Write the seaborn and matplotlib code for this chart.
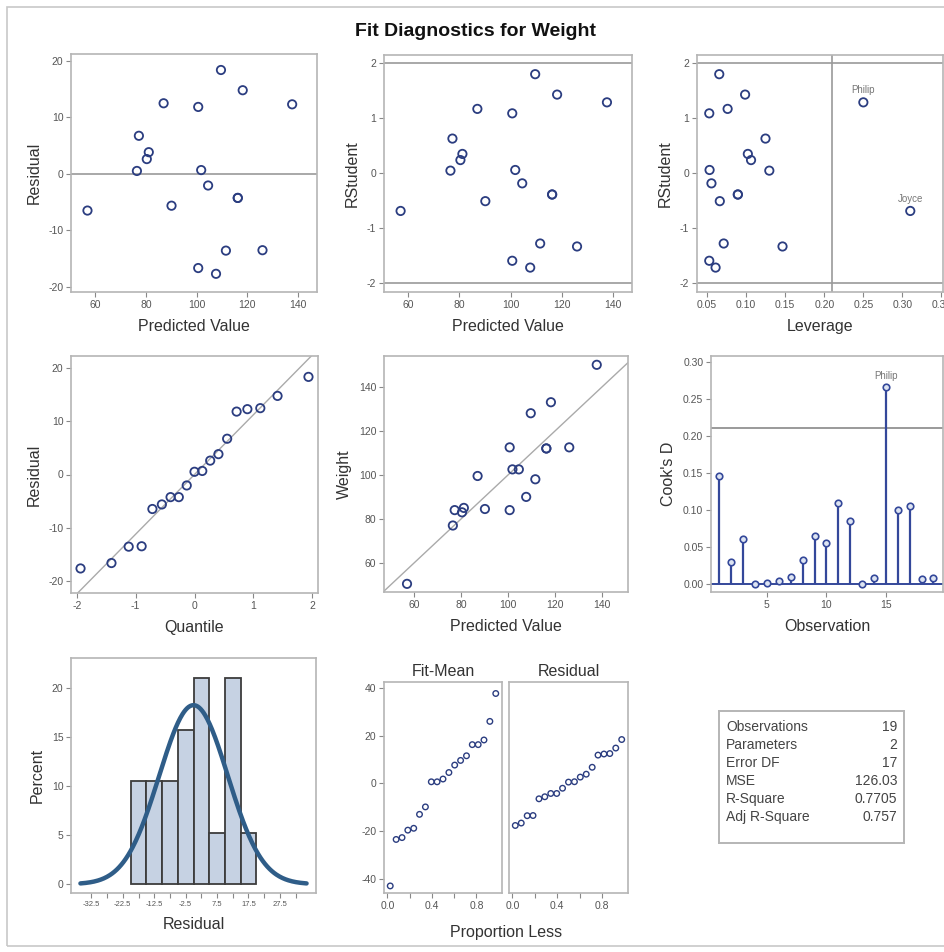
import numpy as np
import pandas as pd
import seaborn as sns
import matplotlib
matplotlib.use('Agg')
import matplotlib.pyplot as plt
from matplotlib.patches import Rectangle

# data (19 observations)
names = ['Alfred', 'Alice', 'Barbara', 'Carol', 'Henry', 'James', 'Jane', 'Janet', 'Jeffrey', 'John',
         'Joyce', 'Judy', 'Louise', 'Mary', 'Philip', 'Robert', 'Ronald', 'Thomas', 'William']
weight = [112.5, 84.0, 98.0, 102.5, 102.5, 83.0, 84.5, 112.5, 84.0, 99.5,
          50.5, 90.0, 77.0, 112.0, 150.0, 128.0, 133.0, 85.0, 112.0]
predicted = [126.006, 77.268, 111.580, 101.832, 104.561, 80.387, 90.135, 100.662, 100.662, 87.016,
             56.993, 107.681, 76.488, 116.258, 137.703, 109.630, 118.208, 81.167, 116.258]
residual = [-13.506, 6.732, -13.580, 0.668, -2.061, 2.613, -5.635, 11.838, -16.662, 12.484,
            -6.493, -17.681, 0.512, -4.258, 12.297, 18.370, 14.792, 3.833, -4.258]
rstudent = [-1.332, 0.630, -1.278, 0.059, -0.184, 0.239, -0.508, 1.089, -1.592, 1.170,
            -0.686, -1.716, 0.047, -0.387, 1.289, 1.801, 1.430, 0.351, -0.387]
leverage = [0.1465, 0.1247, 0.0712, 0.0531, 0.0555, 0.1062, 0.0662, 0.0527, 0.0527, 0.0762,
            0.3101, 0.0608, 0.1296, 0.0893, 0.2500, 0.0655, 0.0986, 0.1021, 0.0893]
cooksd = [0.1456, 0.0293, 0.0604, 0.0001, 0.0011, 0.0036, 0.0096, 0.0327, 0.0647, 0.0552,
          0.1090, 0.0855, 0.0002, 0.0078, 0.2667, 0.1004, 0.1054, 0.0074, 0.0078]
normal_quantile = [-1.938, -1.412, -1.119, -0.899, -0.716, -0.555, -0.407, -0.267, -0.132, 0.0,
                   0.132, 0.267, 0.407, 0.555, 0.716, 0.899, 1.119, 1.412, 1.938]
proportion_less = [0.026, 0.079, 0.132, 0.184, 0.237, 0.289, 0.342, 0.395, 0.447, 0.500,
                   0.553, 0.605, 0.658, 0.711, 0.763, 0.816, 0.868, 0.921, 0.974]

rmse = 11.226
resid_sd = 10.91
cook_cut = 0.2105
lev_cut = 0.2105

stat_labels = ['Observations', 'Parameters', 'Error DF', 'MSE', 'R-Square', 'Adj R-Square']
stat_values = ['19', '2', '17', '126.03', '0.7705', '0.757']

df = pd.DataFrame({'name': names, 'weight': weight, 'pred': predicted, 'resid': residual,
                   'rstudent': rstudent, 'lev': leverage, 'cooksd': cooksd,
                   'obs': np.arange(1, len(names) + 1)})
qq = pd.DataFrame({'q': normal_quantile, 'r': np.sort(df['resid'].values)})
spread = pd.DataFrame({'p': proportion_less,
                       'fit': np.sort(df['pred'].values - df['weight'].mean()),
                       'res': np.sort(df['resid'].values)})

sns.set_theme(style='white')
plt.rcParams['font.family'] = ['Liberation Sans', 'DejaVu Sans']
plt.rcParams['axes.unicode_minus'] = False

W, H = 944, 952
fig = plt.figure(figsize=(W / 100, H / 100), dpi=100)
fig.patch.set_facecolor('white')

MARK = '#2b3d80'
REF = '#9a9a9a'
FRAME = '#b5b5b5'
LBL = '#333333'
TCK = '#555555'


def box(l, r, t, b):
    return [l / W, 1 - b / H, (r - l) / W, (b - t) / H]


def style(ax, xlabel=None, ylabel=None):
    for s in ax.spines.values():
        s.set_color(FRAME)
        s.set_linewidth(1.2)
    ax.tick_params(axis='both', which='both', direction='out', length=3.5, width=0.8,
                   color='#888888', labelsize=7.5, labelcolor=TCK, pad=2,
                   bottom=True, left=True)
    ax.set_xlabel(xlabel if xlabel else '', fontsize=11.5, color=LBL, labelpad=7)
    ax.set_ylabel(ylabel if ylabel else '', fontsize=11.5, color=LBL, labelpad=5)
    ax.grid(False)


def circles(ax, x, y, data, size=36, lw=1.3):
    sns.scatterplot(data=data, x=x, y=y, ax=ax, marker='o', s=size, facecolor='none',
                    edgecolor=MARK, linewidth=lw, legend=False, zorder=3)


# title and outer frame
fig.text(475 / W, 1 - 32 / H, 'Fit Diagnostics for Weight', ha='center', va='center',
         fontsize=14, fontweight='bold', color='#111111')
fig.patches.append(Rectangle((7 / W, 1 - 946 / H), 1.2, 939 / H, transform=fig.transFigure,
                             fill=False, edgecolor='#c8c8c8', linewidth=1.2))

# residual vs predicted
ax = fig.add_axes(box(71, 317, 54, 292))
ax.axhline(0, color=REF, lw=1.2, zorder=1)
circles(ax, 'pred', 'resid', df)
ax.set_xlim(50.5, 147.5)
ax.set_ylim(-20.9, 21.2)
ax.set_xticks([60, 80, 100, 120, 140])
ax.set_yticks([-20, -10, 0, 10, 20])
style(ax, 'Predicted Value', 'Residual')

# rstudent vs predicted
ax = fig.add_axes(box(384, 632, 55, 292))
for v in (-2, 2):
    ax.axhline(v, color=REF, lw=1.2, zorder=1)
circles(ax, 'pred', 'rstudent', df)
ax.set_xlim(50.5, 147.5)
ax.set_ylim(-2.16, 2.15)
ax.set_xticks([60, 80, 100, 120, 140])
ax.set_yticks([-2, -1, 0, 1, 2])
style(ax, 'Predicted Value', 'RStudent')

# rstudent vs leverage
ax = fig.add_axes(box(697, 943, 55, 292))
for v in (-2, 2):
    ax.axhline(v, color=REF, lw=1.2, zorder=1)
ax.axvline(lev_cut, color=REF, lw=1.2, zorder=1)
circles(ax, 'lev', 'rstudent', df)
for nm in ('Philip', 'Joyce'):
    row = df[df['name'] == nm].iloc[0]
    ax.text(row['lev'], row['rstudent'] + 0.13, nm, ha='center', va='bottom',
            fontsize=7, color='#777777')
ax.set_xlim(0.037, 0.352)
ax.set_ylim(-2.16, 2.15)
ax.set_xticks([0.05, 0.10, 0.15, 0.20, 0.25, 0.30, 0.35])
ax.set_xticklabels(['0.05', '0.10', '0.15', '0.20', '0.25', '0.30', '0.35'])
ax.set_yticks([-2, -1, 0, 1, 2])
style(ax, 'Leverage', 'RStudent')
ax.xaxis.get_majorticklabels()[-1].set_clip_on(False)

# normal quantile plot
ax = fig.add_axes(box(71, 318, 356, 593))
ax.axline((0, 0), slope=rmse, color='#aaaaaa', lw=1.0, zorder=1)
circles(ax, 'q', 'r', qq)
ax.set_xlim(-2.1, 2.1)
ax.set_ylim(-22.3, 22.3)
ax.set_xticks([-2, -1, 0, 1, 2])
ax.set_yticks([-20, -10, 0, 10, 20])
style(ax, 'Quantile', 'Residual')

# observed vs predicted
ax = fig.add_axes(box(384, 628, 356, 592))
ax.axline((0, 0), slope=1, color='#aaaaaa', lw=1.0, zorder=1)
circles(ax, 'pred', 'weight', df)
ax.set_xlim(47.2, 151)
ax.set_ylim(46.8, 154)
ax.set_xticks([60, 80, 100, 120, 140])
ax.set_yticks([60, 80, 100, 120, 140])
style(ax, 'Predicted Value', 'Weight')

# cook's d
ax = fig.add_axes(box(711, 943, 356, 592))
ax.axhline(cook_cut, color=REF, lw=1.4, zorder=1)
ax.axhline(0, color='#34489a', lw=1.4, zorder=2)
ax.vlines(df['obs'], 0, df['cooksd'], color='#34489a', lw=1.6, zorder=2)
sns.scatterplot(data=df, x='obs', y='cooksd', ax=ax, marker='o', s=22, facecolor='#dde4f2',
                edgecolor='#34489a', linewidth=1.2, legend=False, zorder=3)
row = df[df['name'] == 'Philip'].iloc[0]
ax.text(row['obs'], row['cooksd'] + 0.008, 'Philip', ha='center', va='bottom',
        fontsize=7, color='#777777')
ax.set_xlim(0.3, 19.8)
ax.set_ylim(-0.0108, 0.308)
ax.set_xticks([5, 10, 15])
ax.set_yticks([0, 0.05, 0.10, 0.15, 0.20, 0.25, 0.30])
ax.set_yticklabels(['0.00', '0.05', '0.10', '0.15', '0.20', '0.25', '0.30'])
style(ax, 'Observation', "Cook's D")

# histogram of residuals with normal curve
ax = fig.add_axes(box(71, 316, 658, 893))
sns.histplot(data=df, x='resid', bins=np.arange(-20, 21, 5), stat='percent', ax=ax,
             color='#c6d2e3', edgecolor='#3c3c3c', linewidth=1.3, alpha=1, zorder=2)
xs = np.linspace(-36, 36, 300)
curve = pd.DataFrame({'x': xs,
                      'y': 100 * 5 * np.exp(-0.5 * (xs / resid_sd) ** 2) / (resid_sd * np.sqrt(2 * np.pi))})
sns.lineplot(data=curve, x='x', y='y', ax=ax, color='#2f5d88', lw=3.2, zorder=3)
ax.set_xlim(-39, 39)
ax.set_ylim(-0.9, 23.1)
ticks = np.arange(-32.5, 33, 5)
ax.set_xticks(ticks)
ax.set_xticklabels([f'{t:g}' if i % 2 == 0 else '' for i, t in enumerate(ticks)])
ax.set_yticks([0, 5, 10, 15, 20])
style(ax, 'Residual', 'Percent')
ax.tick_params(axis='x', labelsize=5.5)

# residual-fit spread plot
ax1 = fig.add_axes(box(384, 502, 682, 893))
ax2 = fig.add_axes(box(509, 628, 682, 893), sharey=ax1)
sns.scatterplot(data=spread, x='p', y='fit', ax=ax1, marker='o', s=16, facecolor='none',
                edgecolor=MARK, linewidth=1.0, legend=False)
sns.scatterplot(data=spread, x='p', y='res', ax=ax2, marker='o', s=16, facecolor='none',
                edgecolor=MARK, linewidth=1.0, legend=False)
for a, t in ((ax1, 'Fit-Mean'), (ax2, 'Residual')):
    a.set_xlim(-0.03, 1.03)
    a.set_xticks([0.0, 0.4, 0.8])
    a.set_xticklabels(['0.0', '0.4', '0.8'])
    a.set_xticks([0.2, 0.6], minor=True)
    style(a)
    a.tick_params(axis='x', which='minor', length=3.5)
    a.set_title(t, fontsize=11.5, color=LBL, pad=4)
ax1.set_ylim(-46, 42.5)
ax1.set_yticks([-40, -20, 0, 20, 40])
ax2.tick_params(axis='y', left=False, labelleft=False)
fig.text(506 / W, 1 - 933 / H, 'Proportion Less', ha='center', va='center',
         fontsize=11.5, color=LBL)

# fit statistics table
ax = fig.add_axes(box(719, 904, 711, 843))
ax.set_xticks([])
ax.set_yticks([])
for s in ax.spines.values():
    s.set_color(FRAME)
    s.set_linewidth(1.4)
for i, (lab, val) in enumerate(zip(stat_labels, stat_values)):
    y = 1 - (16 + 18 * i) / 132
    ax.text(7 / 185, y, lab, ha='left', va='center', fontsize=10, color='#444444',
            transform=ax.transAxes)
    ax.text(178 / 185, y, val, ha='right', va='center', fontsize=10, color='#444444',
            transform=ax.transAxes)

fig.savefig('out.png', dpi=100, facecolor='white')
